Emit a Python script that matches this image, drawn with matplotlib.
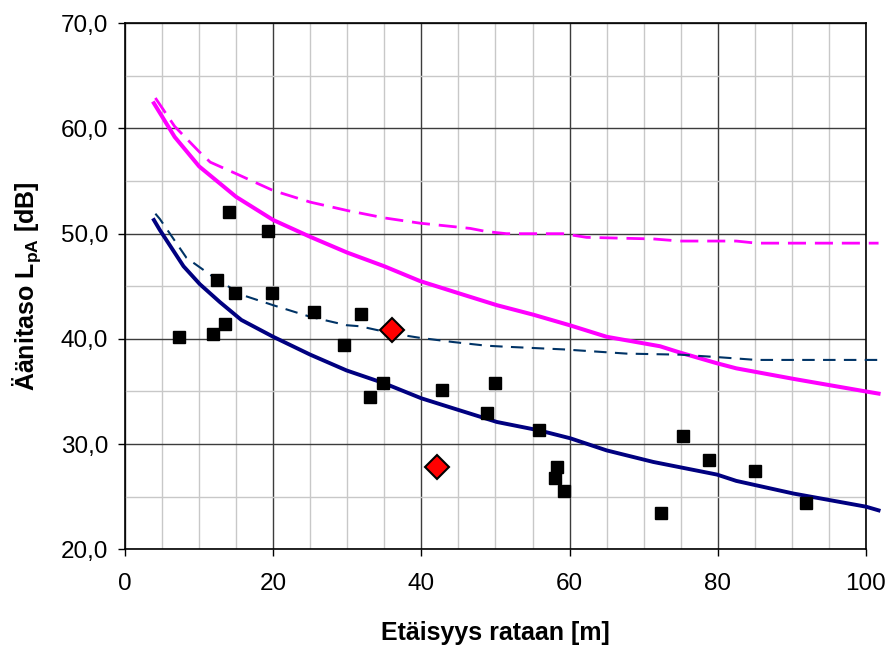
import matplotlib
matplotlib.use("Agg")
import matplotlib.pyplot as plt
from matplotlib.ticker import MultipleLocator, FuncFormatter

plt.rcParams['font.family'] = ['Liberation Sans', 'DejaVu Sans']
plt.rcParams['mathtext.fontset'] = 'custom'
plt.rcParams['mathtext.rm'] = 'Liberation Sans'
plt.rcParams['mathtext.bf'] = 'Liberation Sans:bold'

# mittaukset (neliöt)
meas_x = [7.3, 14.0, 19.3, 12.4, 14.8, 19.9, 25.5, 31.9, 13.45, 11.9, 29.5,
          34.8, 33.0, 42.8, 50.0, 48.9, 55.9, 58.3, 58.0, 59.3,
          75.3, 78.8, 85.0, 91.9, 72.4]
meas_y = [40.15, 52.1, 50.3, 45.6, 44.4, 44.4, 42.6, 42.4, 41.45, 40.5, 39.4,
          35.8, 34.5, 35.1, 35.8, 33.0, 31.35, 27.8, 26.8, 25.5,
          30.8, 28.5, 27.4, 24.4, 23.45]

# erikoispisteet (punaiset vinoneliöt)
spec_x = [36.0, 42.1]
spec_y = [40.8, 27.85]

# mallikäyrät
mag_x = [3.9, 6.7, 10.0, 15.0, 20.0, 25.0, 30.0, 35.0, 39.8, 45.2, 50.2, 55.1,
         60.0, 65.0, 72.2, 74.9, 79.8, 82.5, 90.2, 100.0, 101.7]
mag_y = [62.4, 59.2, 56.4, 53.5, 51.3, 49.7, 48.2, 46.9, 45.5, 44.3, 43.2, 42.3,
         41.3, 40.2, 39.3, 38.7, 37.7, 37.2, 36.2, 35.0, 34.8]

magd_x = [4.1, 6.7, 10.0, 11.5, 15.0, 20.0, 25.0, 30.0, 35.0, 39.8, 43.9, 46.6,
          48.8, 51.5, 59.1, 62.3, 71.3, 74.9, 82.5, 85.2, 101.7]
magd_y = [62.9, 60.2, 57.8, 56.8, 55.7, 54.1, 53.0, 52.2, 51.5, 51.0, 50.7, 50.5,
          50.2, 50.0, 50.0, 49.65, 49.5, 49.3, 49.3, 49.1, 49.1]

navy_x = [3.9, 4.7, 7.9, 10.1, 12.8, 15.7, 20.0, 25.0, 29.9, 34.9, 40.0, 45.2,
          50.2, 55.9, 60.1, 65.0, 71.3, 79.9, 82.5, 90.2, 100.0, 101.7]
navy_y = [51.3, 50.35, 46.9, 45.2, 43.5, 41.8, 40.2, 38.5, 37.0, 35.8, 34.35, 33.2,
          32.1, 31.3, 30.55, 29.4, 28.3, 27.1, 26.5, 25.3, 24.05, 23.7]

navyd_x = [4.1, 4.7, 8.3, 11.9, 15.7, 20.0, 25.0, 29.9, 31.7, 36.2, 39.8, 44.3,
           48.8, 51.5, 59.2, 67.7, 74.9, 80.3, 85.2, 101.7]
navyd_y = [51.9, 51.4, 47.7, 45.9, 44.2, 43.2, 42.1, 41.3, 41.2, 40.5, 40.1, 39.7,
           39.35, 39.25, 39.0, 38.6, 38.5, 38.25, 38.0, 38.0]

fig = plt.figure(figsize=(8.91, 6.45), dpi=100)
ax = fig.add_axes([0.1403, 0.1484, 0.8316, 0.8155])

ax.plot(magd_x, magd_y, color='#ff00ff', lw=2.0, dashes=(6.5, 3.2), clip_on=False, zorder=3)
ax.plot(mag_x, mag_y, color='#ff00ff', lw=2.9, clip_on=False, zorder=3)
ax.plot(navyd_x, navyd_y, color='#003366', lw=1.5, dashes=(6, 4), clip_on=False, zorder=3)
ax.plot(navy_x, navy_y, color='#000080', lw=2.8, clip_on=False, zorder=3)

ax.plot(meas_x, meas_y, 's', color='black', ms=8.5, zorder=4)
ax.plot(spec_x, spec_y, 'D', mfc='#ff0000', mec='black', mew=1.5, ms=12, zorder=4)

ax.set_xlim(0, 100)
ax.set_ylim(20, 70)
ax.xaxis.set_major_locator(MultipleLocator(20))
ax.xaxis.set_minor_locator(MultipleLocator(5))
ax.yaxis.set_major_locator(MultipleLocator(10))
ax.yaxis.set_minor_locator(MultipleLocator(5))
ax.yaxis.set_major_formatter(FuncFormatter(lambda v, p: f"{v:.1f}".replace('.', ',')))

ax.grid(which='minor', color='#c8c8c8', lw=1.0)
ax.grid(which='major', color='#3c3c3c', lw=1.0)
ax.set_axisbelow(True)

ax.tick_params(which='major', direction='out', length=5, width=1, labelsize=17.5, pad=7)
ax.tick_params(axis='x', which='major', pad=12)
ax.tick_params(which='minor', length=0)
for s in ax.spines.values():
    s.set_color('black')
    s.set_linewidth(1.2)

ax.set_xlabel('Etäisyys rataan [m]', fontsize=18, fontweight='bold', labelpad=19)
ax.set_ylabel(r'Äänitaso L$_{\mathbf{pA}}$ [dB]', fontsize=18, fontweight='bold', labelpad=13)

fig.savefig('out.png', dpi=100)
